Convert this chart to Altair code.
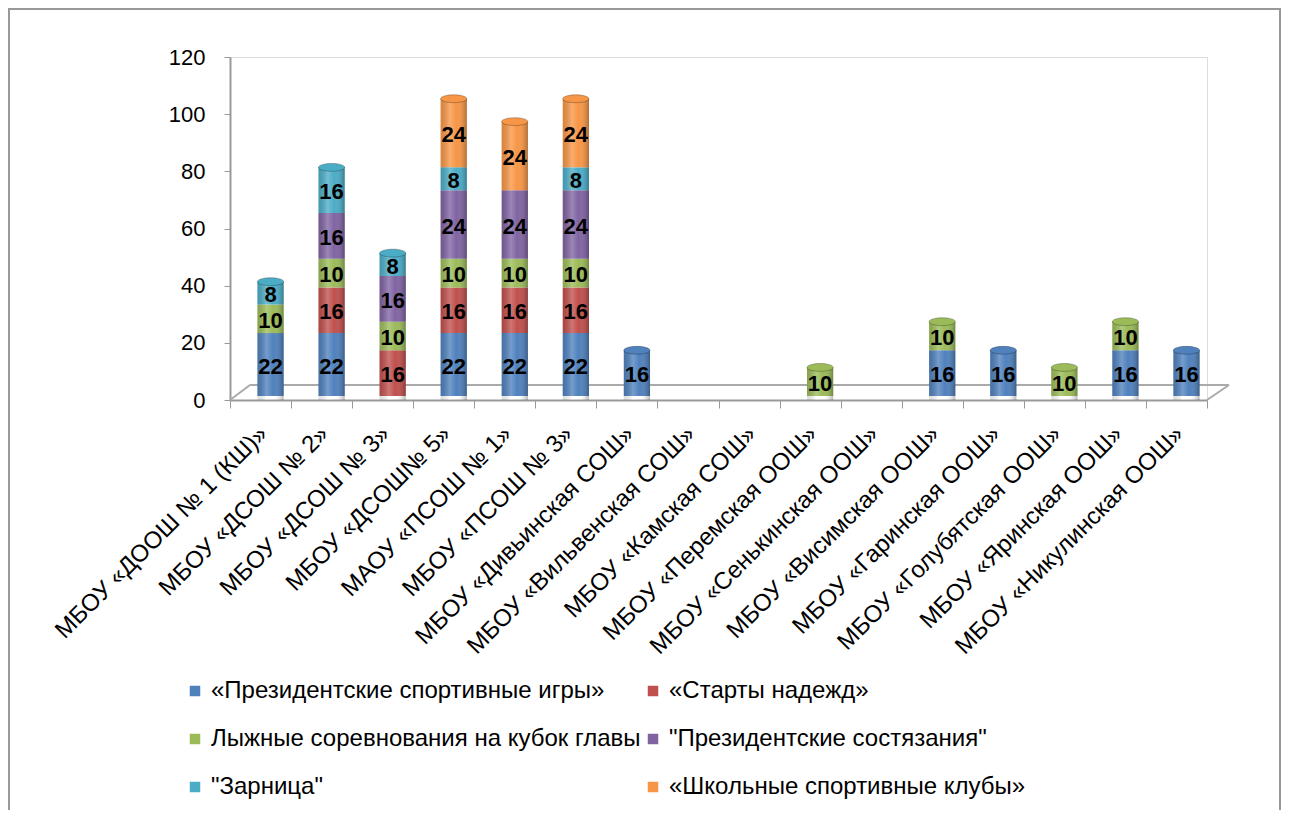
import altair as alt
import pandas as pd

schools = [
    "МБОУ «ДООШ № 1 (КШ)»", "МБОУ «ДСОШ № 2»", "МБОУ «ДСОШ № 3»", "МБОУ «ДСОШ№ 5»",
    "МАОУ «ПСОШ № 1»", "МБОУ «ПСОШ № 3»", "МБОУ «Дивьинская СОШ»", "МБОУ «Вильвенская СОШ»",
    "МБОУ «Камская СОШ»", "МБОУ «Перемская ООШ»", "МБОУ «Сенькинская ООШ»", "МБОУ «Висимская ООШ»",
    "МБОУ «Гаринская ООШ»", "МБОУ «Голубятская ООШ»", "МБОУ «Яринская ООШ»", "МБОУ «Никулинская ООШ»",
]
series = [
    "«Президентские спортивные игры»", "«Старты надежд»",
    "Лыжные соревнования на кубок главы", "\"Президентские состязания\"",
    "\"Зарница\"", "«Школьные спортивные клубы»",
]
colors = ["#4F81BD", "#C0504D", "#9BBB59", "#8064A2", "#4BACC6", "#F79646"]

pres_games = [22, 22, 0, 22, 22, 22, 16, 0, 0, 0, 0, 16, 16, 0, 16, 16]
starts     = [0, 16, 16, 16, 16, 16, 0, 0, 0, 0, 0, 0, 0, 0, 0, 0]
ski        = [10, 10, 10, 10, 10, 10, 0, 0, 0, 10, 0, 10, 0, 10, 10, 0]
pres_comp  = [0, 16, 16, 24, 24, 24, 0, 0, 0, 0, 0, 0, 0, 0, 0, 0]
zarnitsa   = [8, 16, 8, 8, 0, 8, 0, 0, 0, 0, 0, 0, 0, 0, 0, 0]
clubs      = [0, 0, 0, 24, 24, 24, 0, 0, 0, 0, 0, 0, 0, 0, 0, 0]

all_vals = [pres_games, starts, ski, pres_comp, zarnitsa, clubs]
rows = []
for si, (name, vals) in enumerate(zip(series, all_vals)):
    for sc, v in zip(schools, vals):
        if v > 0:
            rows.append({"school": sc, "series": name, "idx": si, "v": v})
df = pd.DataFrame(rows)

# legend fills column by column: reorder so it reads row by row as in the original
legend_order = [series[0], series[2], series[4], series[1], series[3], series[5]]
legend_colors = [colors[0], colors[2], colors[4], colors[1], colors[3], colors[5]]

FONT = "Liberation Sans"
XOFF, YOFF = 10, -4

x_scale = alt.Scale(domain=schools, paddingInner=0, paddingOuter=0)
x_enc = alt.X("school:N", scale=x_scale,
              axis=alt.Axis(title=None, labelAngle=-45, labelAlign="right", labelBaseline="middle",
                            labelFontSize=24, labelColor="#000", labelFont=FONT, labelPadding=22,
                            tickBand="extent", tickSize=8, tickColor="#999", domainColor="#999",
                            domainWidth=2, labelLimit=500, labelOffset=3))
y_scale = alt.Scale(domain=[0, 120], nice=False)
c_scale = alt.Scale(domain=legend_order, range=legend_colors)

base = alt.Chart(df)

bars = base.mark_bar(width=alt.RelativeBandSize(0.43), xOffset=XOFF, yOffset=YOFF).encode(
    x=x_enc,
    y=alt.Y("v:Q", stack="zero", scale=y_scale,
            axis=alt.Axis(title=None, values=[0, 20, 40, 60, 80, 100, 120], labelFontSize=22,
                          labelColor="#000", labelFont=FONT, tickSize=6, tickColor="#999",
                          domainColor="#999", domainWidth=2, labelPadding=19, grid=False)),
    color=alt.Color("series:N", scale=c_scale,
                    legend=alt.Legend(title=None, orient="none", legendX=-47, legendY=622,
                                      columns=2, symbolType="square", symbolSize=110,
                                      symbolStrokeWidth=0, labelFontSize=24, labelFont=FONT,
                                      labelColor="#000", rowPadding=24, columnPadding=0,
                                      labelLimit=600)),
    order=alt.Order("idx:Q", sort="ascending"),
)

shade = base.mark_bar(width=alt.RelativeBandSize(0.43), xOffset=XOFF, yOffset=YOFF,
                      color=alt.Gradient(gradient="linear", x1=0, x2=1, y1=0, y2=0,
                                         stops=[alt.GradientStop(offset=0, color="rgba(0,0,0,0.12)"),
                                                alt.GradientStop(offset=0.35, color="rgba(255,255,255,0.22)"),
                                                alt.GradientStop(offset=0.6, color="rgba(255,255,255,0.0)"),
                                                alt.GradientStop(offset=1, color="rgba(0,0,0,0.28)")])).encode(
    x=alt.X("school:N", scale=x_scale),
    y=alt.Y("sum(v):Q", scale=y_scale),
)

stacked = base.transform_window(
    cum="sum(v)", groupby=["school"], sort=[alt.SortField("idx", order="ascending")]
)

ELLIPSE = "M-1,0 A1,0.3 0 1,0 1,0 A1,0.3 0 1,0 -1,0 Z"
caps = stacked.transform_window(
    rk="rank()", groupby=["school"], sort=[alt.SortField("idx", order="descending")]
).transform_filter("datum.rk == 1").mark_point(
    shape=ELLIPSE, filled=True, size=690, xOffset=XOFF, yOffset=YOFF,
    stroke="rgba(0,0,0,0.25)", strokeWidth=1, opacity=1
).encode(
    x=alt.X("school:N", scale=x_scale),
    y=alt.Y("cum:Q", scale=y_scale),
    color=alt.Color("series:N", scale=c_scale, legend=None),
)

labels = stacked.transform_calculate(mid="datum.cum - datum.v / 2").mark_text(
    fontSize=22, fontWeight="bold", font=FONT, color="#000", xOffset=XOFF, yOffset=YOFF + 2
).encode(
    x=alt.X("school:N", scale=x_scale),
    y=alt.Y("mid:Q", scale=y_scale),
    text=alt.Text("v:Q"),
)

deco = pd.DataFrame({"k": [0]})
floor_back = alt.Chart(deco).mark_rule(color="#aaa", strokeWidth=2).encode(
    x=alt.value(20), x2=alt.value(999), y=alt.value(328), y2=alt.value(328))
floor_left = alt.Chart(deco).mark_rule(color="#aaa", strokeWidth=2).encode(
    x=alt.value(0), x2=alt.value(20), y=alt.value(343), y2=alt.value(328))
floor_right = alt.Chart(deco).mark_rule(color="#aaa", strokeWidth=2).encode(
    x=alt.value(977), x2=alt.value(999), y=alt.value(343), y2=alt.value(328))
border = alt.Chart(deco).mark_rect(fill="transparent", stroke="#999", strokeWidth=2).encode(
    x=alt.value(-221), x2=alt.value(1050), y=alt.value(-48), y2=alt.value(770))

chart = alt.layer(border, floor_back, floor_left, floor_right, bars, shade, caps, labels).properties(
    width=977, height=343,
    autosize=alt.AutoSizeParams(type="none"),
    padding={"left": 222, "top": 49, "right": 75, "bottom": 410},
).configure_view(stroke=None).configure(font=FONT)

chart.save("out.html", embed_options={"renderer": "svg", "actions": False})
